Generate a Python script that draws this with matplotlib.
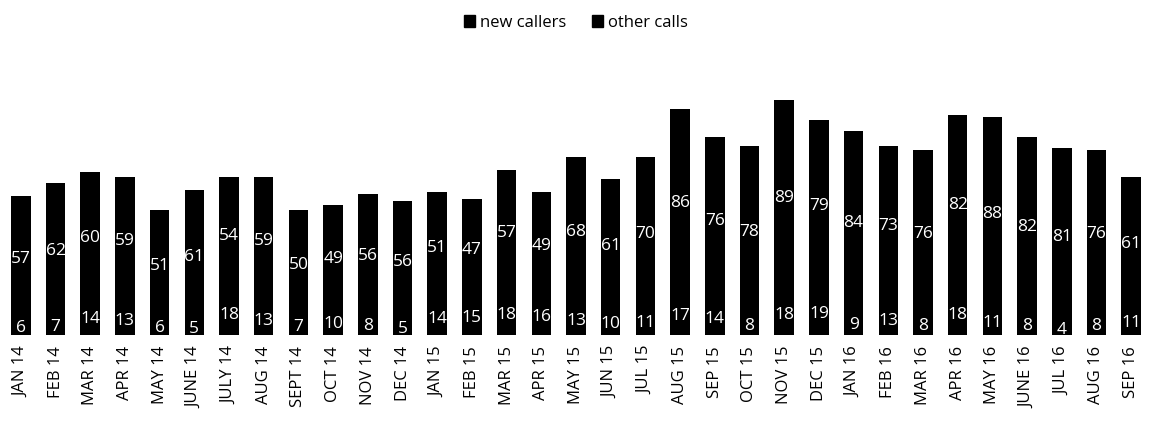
import matplotlib

matplotlib.use("Agg")
from matplotlib import pyplot as plt
from matplotlib.patches import Patch

plt.rcParams['font.family'] = ['Open Sans', 'DejaVu Sans']

months = ["JAN 14", "FEB 14", "MAR 14", "APR 14", "MAY 14", "JUNE 14", "JULY 14",
          "AUG 14", "SEPT 14", "OCT 14", "NOV 14", "DEC 14", "JAN 15", "FEB 15",
          "MAR 15", "APR 15", "MAY 15", "JUN 15", "JUL 15", "AUG 15", "SEP 15",
          "OCT 15", "NOV 15", "DEC 15", "JAN 16", "FEB 16", "MAR 16", "APR 16",
          "MAY 16", "JUNE 16", "JUL 16", "AUG 16", "SEP 16"]
new_callers = [6, 7, 14, 13, 6, 5, 18, 13, 7, 10, 8, 5, 14, 15, 18, 16, 13, 10, 11,
               17, 14, 8, 18, 19, 9, 13, 8, 18, 11, 8, 4, 8, 11]
other_calls = [57, 62, 60, 59, 51, 61, 54, 59, 50, 49, 56, 56, 51, 47, 57, 49, 68, 61,
               70, 86, 76, 78, 89, 79, 84, 73, 76, 82, 88, 82, 81, 76, 61]

fig = plt.figure(figsize=(11.52, 4.4), dpi=100)
ax = fig.add_axes([0.003, 0.239, 0.994, 0.659])

x = range(len(months))
b1 = ax.bar(x, new_callers, width=0.56, color="black")
b2 = ax.bar(x, other_calls, width=0.56, bottom=new_callers, color="black")

# values written inside each segment
ax.bar_label(b1, label_type="center", color="white", fontsize=12.5)
ax.bar_label(b2, label_type="center", color="white", fontsize=12.5)

ax.set_xlim(-0.5, len(months) - 0.5)
ax.set_ylim(0, 132)
ax.set_xticks(list(x))
ax.set_xticklabels(months, rotation=90, fontsize=12)
ax.tick_params(axis="x", length=0, pad=8)
ax.set_yticks([])
for s in ax.spines.values():
    s.set_visible(False)

handles = [Patch(color="black"), Patch(color="black")]
fig.legend(handles, ["new callers", "other calls"], loc="upper center",
           bbox_to_anchor=(0.5, 1.0), ncol=2, frameon=False, fontsize=12,
           handlelength=0.7, handleheight=0.7, handletextpad=0.3, columnspacing=1.5)

fig.savefig("out.png", dpi=100)
